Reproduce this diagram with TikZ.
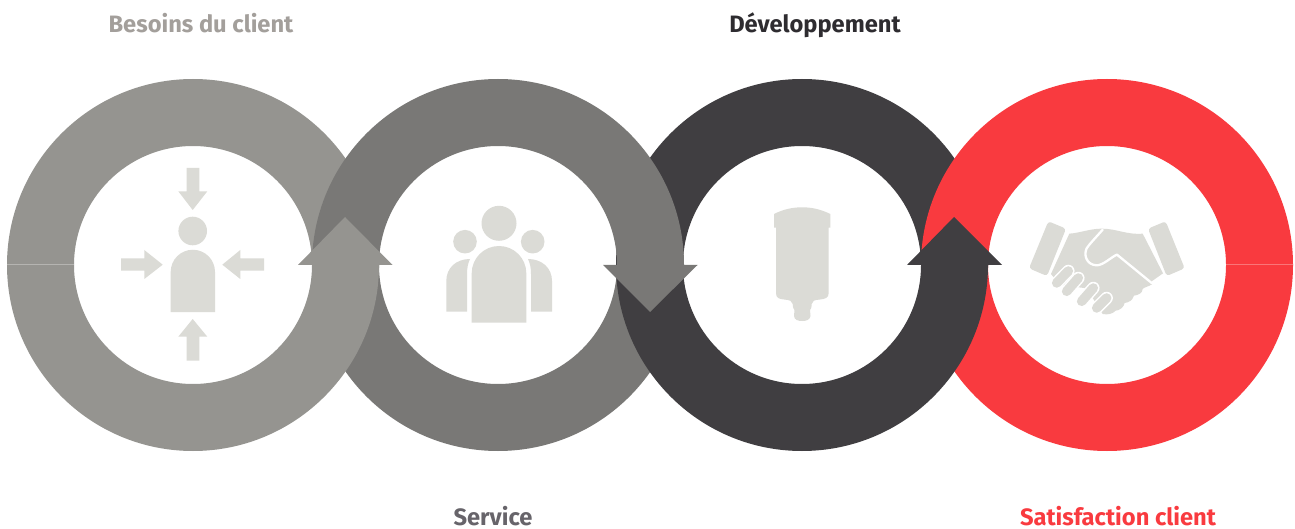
\documentclass[tikz,border=0pt]{standalone}
\usepackage{fontspec}
\setmainfont{Fira Sans}
\definecolor{ringA}{HTML}{959490}
\definecolor{ringB}{HTML}{797876}
\definecolor{ringC}{HTML}{403E41}
\definecolor{ringD}{HTML}{F93A3F}
\definecolor{icon}{HTML}{DBDBD6}
\definecolor{lblA}{HTML}{A39F9B}
\definecolor{lblB}{HTML}{67646A}
\definecolor{lblC}{HTML}{2E2C30}
\tikzset{
  lbl/.style={font=\fontsize{23.7}{26}\selectfont\bfseries, inner sep=0pt, anchor=base},
  ico/.style={fill=icon, draw=none},
}
% upper half ring: #1 centre x, #2 colour
\newcommand{\upring}[2]{%
  \fill[#2] (#1,265) ++(180:186) arc[start angle=180, delta angle=180, radius=186]
     -- ++(-67,0) arc[start angle=360, delta angle=-180, radius=119] -- cycle;}
% lower half ring: #1 centre x, #2 colour
\newcommand{\loring}[2]{%
  \fill[#2] (#1,265) ++(0:186) arc[start angle=0, delta angle=180, radius=186]
     -- ++(67,0) arc[start angle=180, delta angle=-180, radius=119] -- cycle;}
\begin{document}
\begin{tikzpicture}[x=1pt,y=-1pt]
\useasboundingbox (0,0) rectangle (1295,529);
\fill[white] (0,0) rectangle (1295,529);
% upper halves
\upring{193}{ringA}
\upring{802}{ringC}
\upring{498}{ringB}
\upring{1107}{ringD}
% lower halves
\loring{498}{ringB}
\loring{1107}{ringD}
\loring{193}{ringA}
\loring{802}{ringC}
% arrow heads
\fill[ringA] (298,265) -- (345,217) -- (392.5,265) -- (379,265) -- (379,268) -- (312,268) -- (312,265) -- cycle;
\fill[ringB] (603,265) -- (650,312) -- (697.5,265) -- (683,265) -- (683,262) -- (617,262) -- (617,265) -- cycle;
\fill[ringC] (907,265) -- (954,217) -- (1002,265) -- (988,265) -- (988,268) -- (921,268) -- (921,265) -- cycle;
% seams
\draw[white, opacity=.3, line width=.5pt] (7,264.5) -- (75,264.5);
\draw[white, opacity=.3, line width=.5pt] (1226,264.5) -- (1293,264.5);
% icon 1
\fill[ico] (192.7,231) circle[radius=14.3];
\fill[ico] (170.7,312) -- (170.7,271.9) arc[start angle=180, delta angle=180, radius=22.15] -- (215,312) -- cycle;
\fill[ico] (186.7,168) -- (199.3,168) -- (199.3,191.3) -- (207.3,191.3) -- (192.7,210) -- (178.3,191.3) -- (186.7,191.3) -- cycle;
\fill[ico] (186.7,360.7) -- (199.3,360.7) -- (199.3,336.7) -- (207.3,336.7) -- (192.7,319) -- (178.3,336.7) -- (186.7,336.7) -- cycle;
\fill[ico] (121,258.3) -- (144.3,258.3) -- (144.3,250) -- (162.7,264.7) -- (144.3,279) -- (144.3,270.7) -- (121,270.7) -- cycle;
\fill[ico] (264,258.3) -- (240.3,258.3) -- (240.3,250) -- (222.3,264.7) -- (240.3,279) -- (240.3,270.7) -- (264,270.7) -- cycle;
% icon 2
\fill[ico] (499,223.3) circle[radius=17.5];
\fill[ico] (465,241.7) circle[radius=11.8];
\fill[ico] (532.7,241.7) circle[radius=11.8];
\fill[ico] (471.7,322.7) -- (471.7,273.3) arc[start angle=180, delta angle=180, radius=27.3] -- (526.3,322.7) -- cycle;
\fill[ico] (467,311.7) -- (467,274) .. controls (467,268) and (468,263) .. (470,259) .. controls (456,259) and (446.3,268) .. (446.3,281) -- (446.3,311.7) -- cycle;
\fill[ico] (531,311.7) -- (531,274) .. controls (531,268) and (530,263) .. (528,259) .. controls (542,259) and (552,268) .. (552,281) -- (552,311.7) -- cycle;
% icon 3
\fill[ico] (774,227.7) -- (774,214) .. controls (784,209) and (793,207.3) .. (802.2,207.3) .. controls (811,207.3) and (820,209) .. (830.3,214) -- (830.3,227.7) -- (828.7,227.7) -- (828.7,293) .. controls (828.7,298) and (825,299) .. (820,299.5) .. controls (814,300) and (812,301) .. (811.7,304) .. controls (811.5,308) and (811,309) .. (810,310) -- (810.5,316) .. controls (810,320) and (806,321) .. (802.2,321) .. controls (798,321) and (794.5,320) .. (794,316) -- (794.5,310) .. controls (793.5,309) and (793,308) .. (792.7,304) .. controls (792.4,301) and (790,300) .. (784,299.5) .. controls (779,299) and (776,298) .. (776,293) -- (776,227.7) -- cycle;
% icon 4
\begin{scope}[shift={(1020,205)}, x=.3333pt, y=-.3333pt]
  \fill[ico, rounded corners=3pt] (85,49) -- (138,71) -- (81,213) -- (27,190) -- cycle;
  \fill[ico, rounded corners=3pt] (437,49) -- (384,71) -- (440,213) -- (494,190) -- cycle;
  \fill[ico] (148,86) .. controls (180,84) and (210,71) .. (245,71) .. controls (290,71) and (320,90) .. (368,86) -- (429,205) -- (395,229) -- (396,238) .. controls (385,245) and (372,247) .. (368,252) .. controls (367,264) and (357,270) .. (342,272) .. controls (337,287) and (327,292) .. (314,294) .. controls (312,307) and (297,317) .. (287,317) .. controls (277,327) and (264,330) .. (248,327) -- (200,250) -- (120,240) -- (93,207) -- cycle;
  \draw[white, line width=2.3pt, line join=round, line cap=round] (248,74) .. controls (230,95) and (210,115) .. (200,130) .. controls (190,150) and (200,180) .. (230,181) .. controls (250,181) and (275,155) .. (291,149) -- (395,234);
  \foreach \ax/\ay/\bx/\by in {110/234/145/198, 140/259/175/219, 185/289/220/249, 230/309/260/279}{
    \draw[white, line width=12.5pt, line cap=round] (\ax,\ay) -- (\bx,\by);
    \draw[icon, line width=9.5pt, line cap=round] (\ax,\ay) -- (\bx,\by);
  }
\end{scope}
% labels
\node[lbl, text=lblA] (t1) at (201,33) {Besoins du client};
\node[lbl, text=lblC] (t2) at (815,33) {Développement};
\node[lbl, text=lblB] (t3) at (493,525.5) {Service};
\node[lbl, text=ringD] (t4) at (1118,525.5) {Satisfaction client};
\end{tikzpicture}
\end{document}
